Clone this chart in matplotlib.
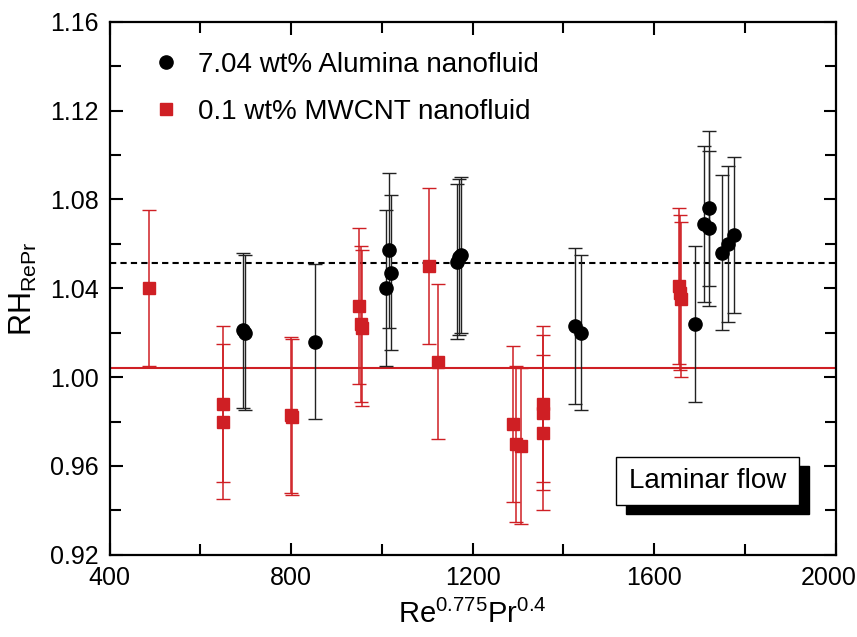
import matplotlib
matplotlib.use("Agg")
import matplotlib.pyplot as plt
from matplotlib.patches import Rectangle
from matplotlib.ticker import MultipleLocator, FuncFormatter

plt.rcParams["font.family"] = ["Liberation Sans", "DejaVu Sans"]
plt.rcParams["mathtext.fontset"] = "custom"
plt.rcParams["mathtext.rm"] = "Liberation Sans"
plt.rcParams["mathtext.it"] = "Liberation Sans"

# 7.04 wt% Alumina nanofluid
alumina_x = [693, 698, 852, 1010, 1015, 1021, 1165, 1170, 1175,
             1425, 1438, 1691, 1709, 1720, 1722, 1749, 1762, 1777]
alumina_y = [1.021, 1.020, 1.016, 1.040, 1.057, 1.047, 1.052, 1.054, 1.055,
             1.023, 1.020, 1.024, 1.069, 1.067, 1.076, 1.056, 1.060, 1.064]
alumina_err = [0.035] * len(alumina_x)

# 0.1 wt% MWCNT nanofluid
mwcnt_x = [486, 649, 650, 800, 802, 949, 955, 957, 1103, 1123,
           1290, 1295, 1306, 1354, 1354, 1355, 1654, 1657, 1660]
mwcnt_y = [1.040, 0.988, 0.980, 0.983, 0.982, 1.032, 1.024, 1.022, 1.050, 1.007,
           0.979, 0.970, 0.969, 0.988, 0.984, 0.975, 1.041, 1.038, 1.035]
mwcnt_err = [0.035] * len(mwcnt_x)

alumina_mean = 1.0515
mwcnt_mean = 1.0042

red = "#cf1f24"
x_max = 2000

fig = plt.figure(figsize=(8.57, 6.37), dpi=100)
ax = fig.add_axes([0.128, 0.129, 0.847, 0.837])

ax.axhline(alumina_mean, color="black", ls=(0, (3, 2)), lw=1.5, zorder=1)
ax.axhline(mwcnt_mean, color=red, lw=1.5, zorder=1)

ax.errorbar(alumina_x, alumina_y, yerr=alumina_err, fmt="o", color="black",
            ms=9.5, elinewidth=1, capsize=5, capthick=1, ecolor="#222222",
            label="7.04 wt% Alumina nanofluid", zorder=3)
ax.errorbar(mwcnt_x, mwcnt_y, yerr=mwcnt_err, fmt="s", color=red,
            ms=8, elinewidth=1.1, capsize=5, capthick=1, ecolor=red,
            label="0.1 wt% MWCNT nanofluid", zorder=3)

ax.set_xlim(400, x_max)
ax.set_ylim(0.92, 1.16)
ax.xaxis.set_major_locator(MultipleLocator(400))
ax.xaxis.set_minor_locator(MultipleLocator(200))
# last x label is drawn separately, nudged left so it stays inside the figure
ax.xaxis.set_major_formatter(FuncFormatter(lambda v, p: "" if v >= x_max else f"{v:.0f}"))
ax.yaxis.set_major_locator(MultipleLocator(0.04))
ax.yaxis.set_minor_locator(MultipleLocator(0.02))
ax.yaxis.set_major_formatter(plt.FormatStrFormatter("%.2f"))
ax.tick_params(which="both", direction="in", top=True, right=True, width=1.5,
               labelsize=18)
ax.tick_params(which="major", length=9, pad=8)
ax.tick_params(which="minor", length=8)
for s in ax.spines.values():
    s.set_linewidth(1.6)

ax.annotate(f"{x_max}", xy=(x_max, 0), xycoords=ax.get_xaxis_transform(),
            xytext=(-5, -8), textcoords="offset points", ha="center", va="top",
            fontsize=18)

ax.set_xlabel(r"Re$^{0.775}$Pr$^{0.4}$", fontsize=21, labelpad=7)
ax.set_ylabel(r"RH$_{\mathregular{RePr}}$", fontsize=22, labelpad=8)

# legend markers only, no error bars
h, l = ax.get_legend_handles_labels()
leg = ax.legend([hh[0] for hh in h], l, loc="upper left", frameon=False,
                fontsize=20, handletextpad=0.55, labelspacing=0.75,
                bbox_to_anchor=(0.02, 0.99), handlelength=1.2)
leg.legend_handles[0].set_markersize(9.5)
leg.legend_handles[1].set_markersize(8)

# "Laminar flow" box with shadow
ax.add_patch(Rectangle((0.711, 0.077), 0.252, 0.09, transform=ax.transAxes,
                       facecolor="black", edgecolor="black", zorder=4))
ax.add_patch(Rectangle((0.698, 0.094), 0.252, 0.09, transform=ax.transAxes,
                       facecolor="white", edgecolor="black", lw=1, zorder=5))
ax.text(0.824, 0.139, "Laminar flow", transform=ax.transAxes, fontsize=20,
        ha="center", va="center", zorder=6)

fig.savefig("out.png", dpi=100)
